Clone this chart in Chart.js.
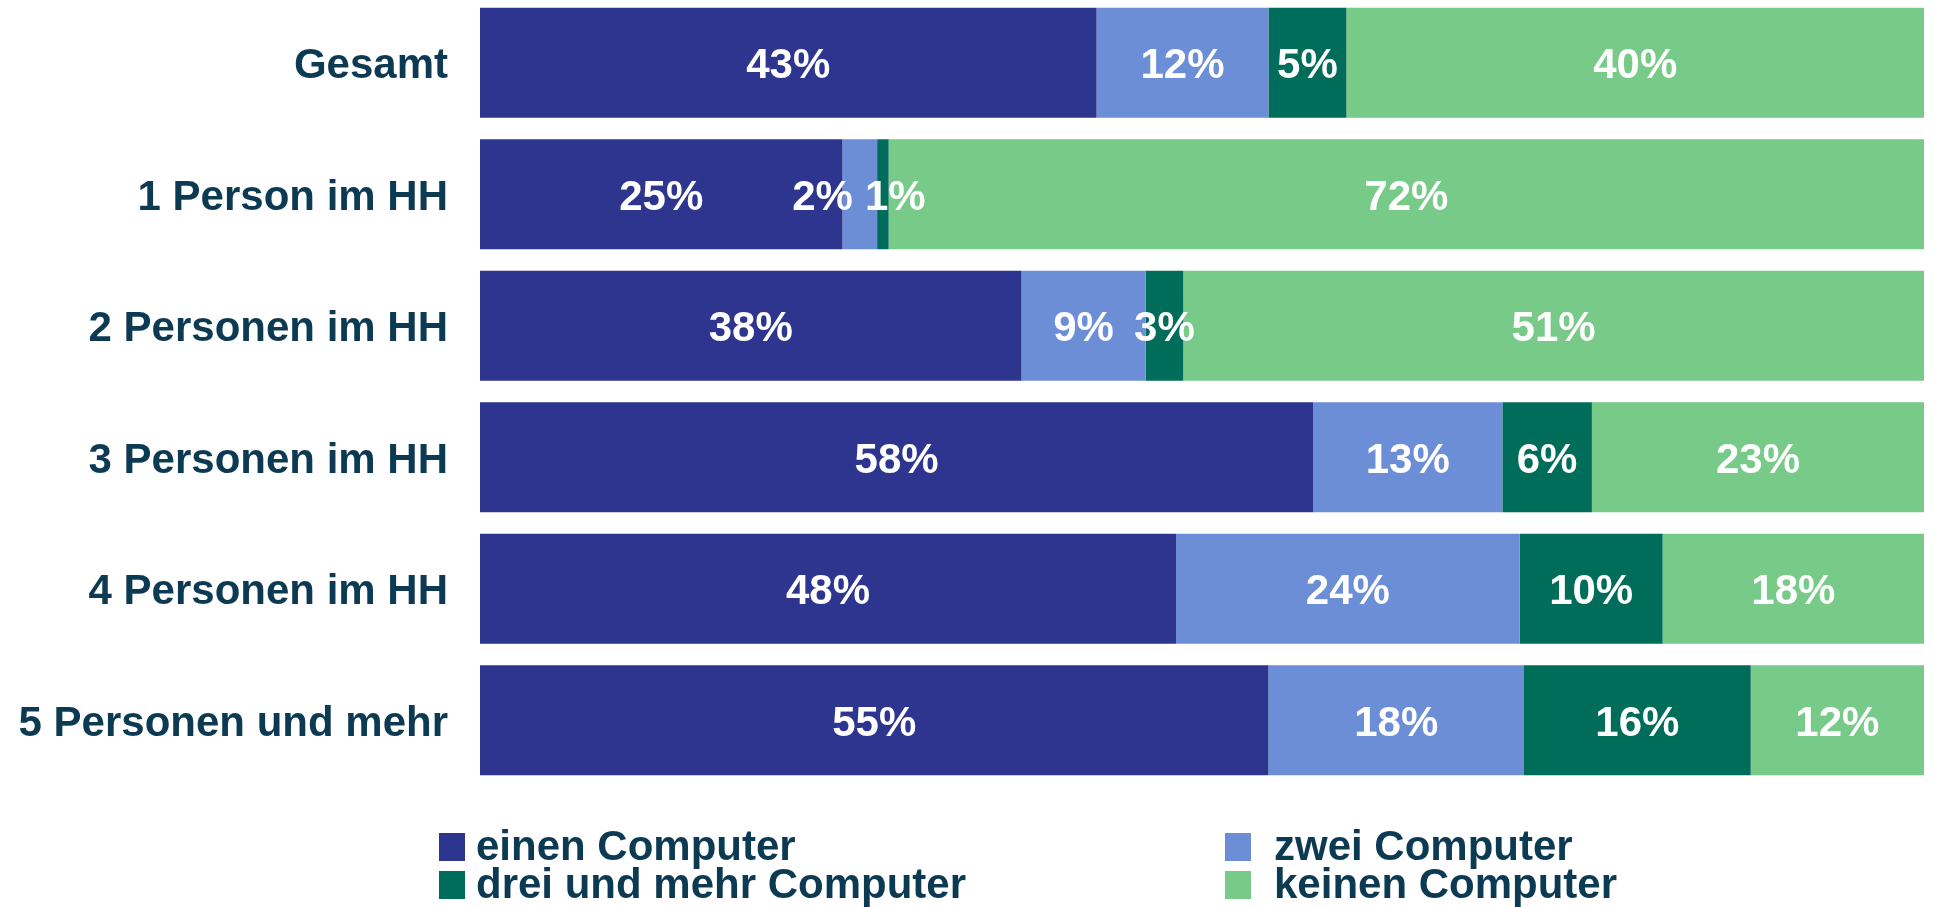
<!DOCTYPE html>
<html lang="de">
<head>
  <meta charset="UTF-8">
  <title>Computer im Haushalt</title>
  <script src="https://cdn.jsdelivr.net/npm/chart.js"></script>
  <style>
    body { margin: 0; background: #fff; overflow: hidden; }
    #wrap { position: absolute; left: 0; top: -3px; width: 1934px; height: 910px; }
  </style>
</head>
<body>
  <div id="wrap"><canvas id="chart" width="1934" height="910"></canvas></div>

  <script>
    // Categories (rows)
    const categories = ['Gesamt', '1 Person im HH', '2 Personen im HH', '3 Personen im HH', '4 Personen im HH', '5 Personen und mehr'];

    // Series (share in %)
    const einenComputer = [42.7, 25.1, 37.5, 57.7, 48.2, 54.6];
    const zweiComputer = [11.9, 2.4, 8.6, 13.1, 23.8, 17.7];
    const dreiUndMehr = [5.4, 0.8, 2.6, 6.2, 9.9, 15.7];
    const keinenComputer = [40.0, 71.7, 51.3, 23.0, 18.1, 12.0];

    const seriesNames = ['einen Computer', 'zwei Computer', 'drei und mehr Computer', 'keinen Computer'];
    const seriesColors = ['#2E358F', '#6C8ED6', '#006C5A', '#77CA88'];
    const seriesData = [einenComputer, zweiComputer, dreiUndMehr, keinenComputer];

    const textColor = '#0D3A53';
    const fontFamily = '"Liberation Sans", Arial, sans-serif';

    // White percent labels inside the segments, pushed apart if they collide
    const segmentLabels = {
      id: 'segmentLabels',
      afterDatasetsDraw(chart) {
        const ctx = chart.ctx;
        ctx.save();
        ctx.font = 'bold 42px ' + fontFamily;
        ctx.fillStyle = '#fff';
        ctx.textAlign = 'center';
        ctx.textBaseline = 'middle';
        categories.forEach((cat, i) => {
          const items = [];
          chart.data.datasets.forEach((ds, d) => {
            const bar = chart.getDatasetMeta(d).data[i];
            const text = Math.round(ds.data[i]) + '%';
            items.push({ x: (bar.x + bar.base) / 2, y: bar.y, text, w: ctx.measureText(text).width });
          });
          for (let k = 0; k < items.length - 1; k++) {
            const a = items[k], b = items[k + 1];
            const need = (a.w + b.w) / 2 + 12;
            const gap = b.x - a.x;
            if (gap < need) {
              // shift the pair apart, mostly to the left like the original
              const push = need - gap;
              a.x -= push * 0.75;
              b.x += push * 0.25;
            }
          }
          items.forEach(it => ctx.fillText(it.text, it.x, it.y + 4));
        });
        ctx.restore();
      }
    };

    // Two-column legend below the bars
    const gridLegend = {
      id: 'gridLegend',
      afterDraw(chart) {
        const ctx = chart.ctx;
        const boxX = [439, 1225];
        const textX = [476, 1274];
        const rowY = [850, 888];
        ctx.save();
        ctx.font = 'bold 42px ' + fontFamily;
        ctx.textBaseline = 'middle';
        ctx.textAlign = 'left';
        seriesNames.forEach((name, i) => {
          const col = i % 2, row = Math.floor(i / 2);
          ctx.fillStyle = seriesColors[i];
          ctx.fillRect(boxX[col], rowY[row] - 14, 26, 28);
          ctx.fillStyle = textColor;
          ctx.fillText(name, textX[col], rowY[row] + 1);
        });
        ctx.restore();
      }
    };

    new Chart(document.getElementById('chart'), {
      type: 'bar',
      data: {
        labels: categories,
        datasets: seriesNames.map((name, i) => ({
          label: name,
          data: seriesData[i],
          backgroundColor: seriesColors[i],
          borderWidth: 0,
          categoryPercentage: 1,
          barPercentage: 0.837
        }))
      },
      options: {
        indexAxis: 'y',
        responsive: false,
        animation: false,
        layout: { padding: { left: 0, right: 10, top: 0, bottom: 121 } },
        plugins: {
          legend: { display: false },
          tooltip: { enabled: false }
        },
        scales: {
          x: { stacked: true, min: 0, max: 100, display: false },
          y: {
            stacked: true,
            grid: { display: false },
            border: { display: false },
            ticks: {
              color: textColor,
              padding: 24,
              labelOffset: 4,
              font: { family: fontFamily, size: 42, weight: 'bold' }
            },
            afterFit(scale) {
              scale.width = 480;
              scale.paddingTop = 0;
              scale.paddingBottom = 0;
            }
          }
        }
      },
      plugins: [segmentLabels, gridLegend]
    });
  </script>
</body>
</html>
